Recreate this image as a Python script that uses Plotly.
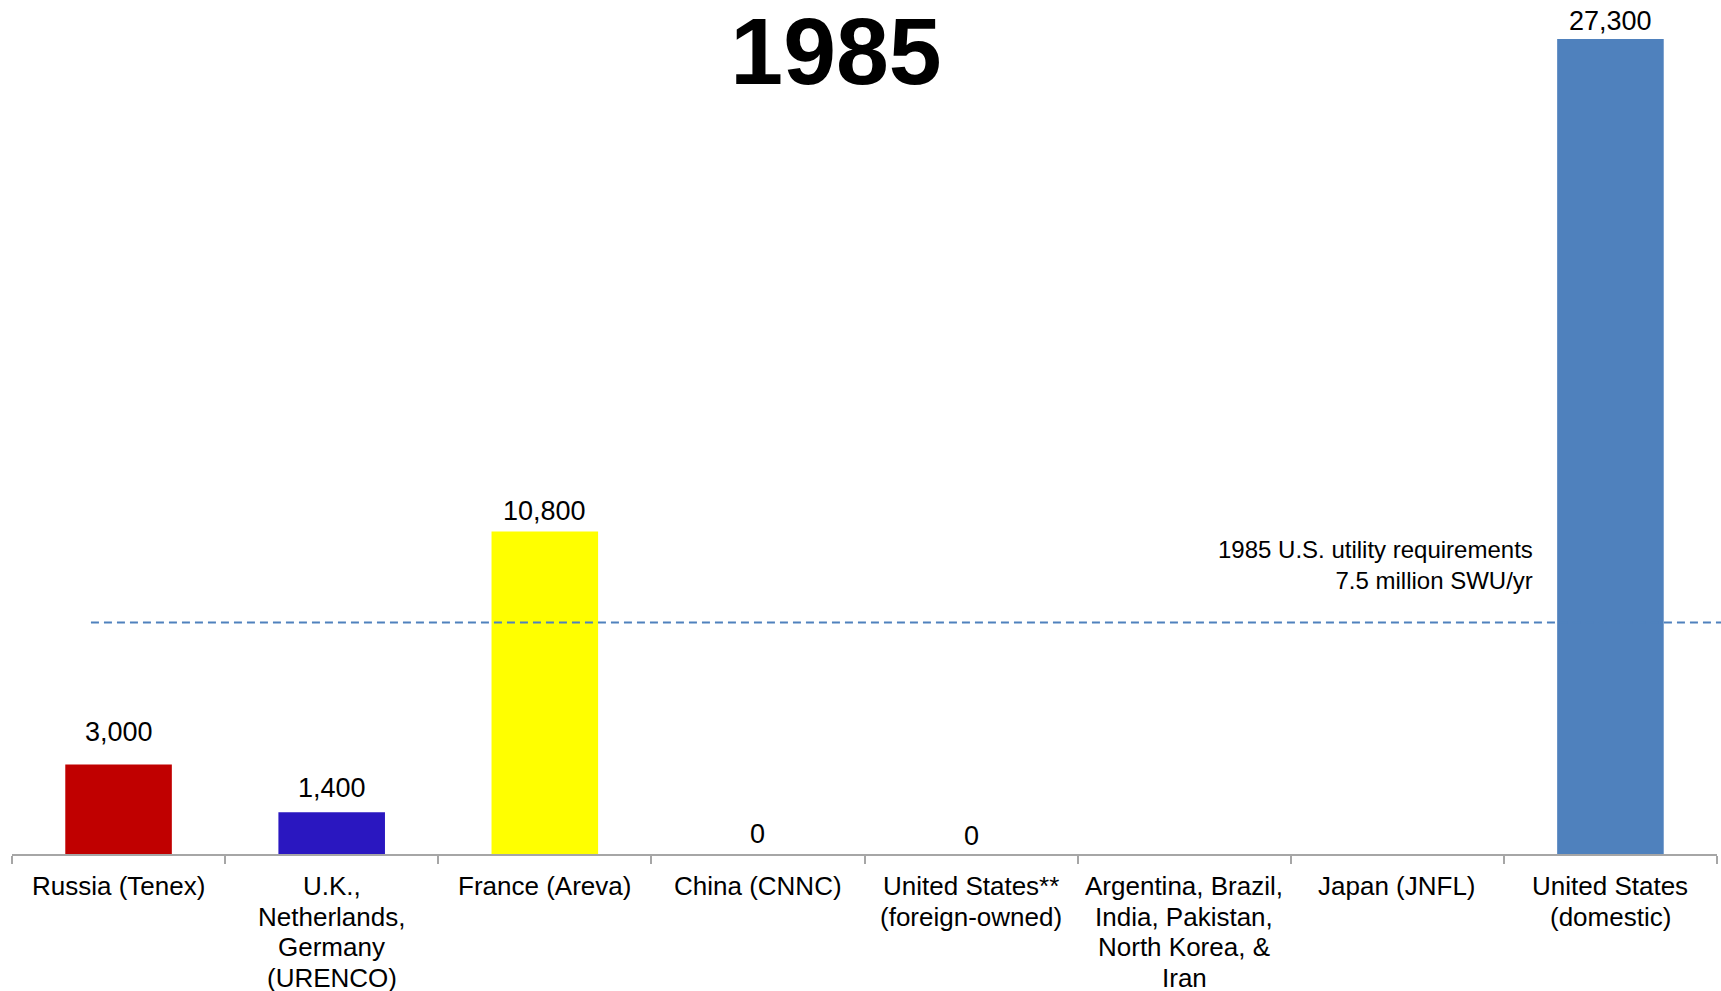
import plotly.graph_objects as go

categories = [
    "Russia (Tenex)",
    "U.K.,<br>Netherlands,<br>Germany<br>(URENCO)",
    "France (Areva)",
    "China (CNNC)",
    "United States**<br>(foreign-owned)",
    "Argentina, Brazil,<br>India, Pakistan,<br>North Korea, &<br>Iran",
    "Japan (JNFL)",
    "United States<br>(domestic)",
]
values = [3000, 1400, 10800, 0, 0, None, None, 27300]
value_labels = ["3,000", "1,400", "10,800", "0", "0", "", "", "27,300"]
bar_colors = ["#C00000", "#2A17C0", "#FFFF00", "#4F81BD", "#4F81BD", "#4F81BD", "#4F81BD", "#4F81BD"]
requirement = 7750
requirement_text = "1985 U.S. utility requirements<br>7.5 million SWU/yr"
title_text = "1985"

# label placement (pixels above bar top), layout only
label_shifts = [15, 7, 4, 3, 1, 0, 0, 1]

FONT = "Liberation Sans, Arial, sans-serif"

fig = go.Figure()
fig.add_trace(go.Bar(
    x=categories,
    y=values,
    marker=dict(color=bar_colors, line=dict(width=0)),
    hoverinfo="skip",
))

for cat, v, lab, sh in zip(categories, values, value_labels, label_shifts):
    if lab == "":
        continue
    fig.add_annotation(
        x=cat, y=v if v is not None else 0, xref="x", yref="y",
        text=lab, showarrow=False, yanchor="bottom", yshift=sh,
        font=dict(family=FONT, size=27, color="#000000"),
    )

# category labels drawn line by line for tighter line spacing
for cat in categories:
    for j, line in enumerate(cat.split("<br>")):
        fig.add_annotation(
            x=cat, y=0, xref="x", yref="y",
            text=line, showarrow=False, xanchor="center", yanchor="middle",
            yshift=-(32 + j * 30.7),
            font=dict(family=FONT, size=26, color="#000000"),
        )

fig.add_shape(
    type="line", xref="paper", yref="y",
    x0=0.0463, x1=1.003, y0=requirement, y1=requirement,
    line=dict(color="#4F81BD", width=2, dash="8px,5px"),
)

fig.add_annotation(
    x=0.893, xref="paper", y=requirement, yref="y",
    text=requirement_text, showarrow=False,
    xanchor="right", yanchor="bottom", align="right", yshift=27,
    font=dict(family=FONT, size=24, color="#000000"),
)

fig.update_layout(
    width=1721, height=991,
    paper_bgcolor="white", plot_bgcolor="white",
    margin=dict(l=12, r=4, t=18, b=137),
    showlegend=False,
    bargap=0.5,
    title=dict(
        text="<b>" + title_text + "</b>",
        x=(836) / 1721, xanchor="center",
        y=1 - 51 / 991, yanchor="middle", yref="container", xref="container",
        font=dict(family=FONT, size=95, color="#000000"),
    ),
    xaxis=dict(
        showline=True, linecolor="#A6A6A6", linewidth=2,
        ticks="outside", tickson="boundaries", ticklen=8, tickcolor="#A6A6A6", tickwidth=1.5,
        showticklabels=False, automargin=False,
        showgrid=False, zeroline=False,
    ),
    yaxis=dict(
        range=[0, 28000], visible=False, showgrid=False, zeroline=False, automargin=False,
    ),
)

fig.write_html("out.html")
